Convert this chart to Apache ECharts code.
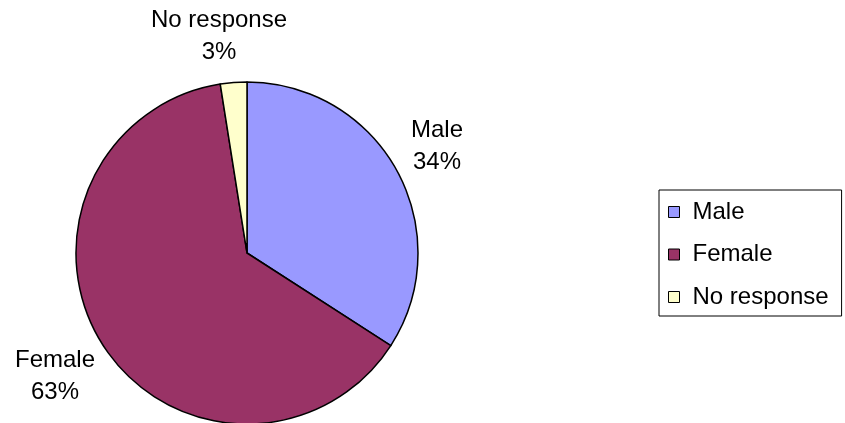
<!DOCTYPE html>
<html>
<head>
<meta charset="utf-8">
<script src="https://cdn.jsdelivr.net/npm/echarts@6/dist/echarts.min.js"></script>
<style>
  html, body { margin: 0; padding: 0; background: #fff; }
  #chart { width: 845px; height: 423px; }
</style>
</head>
<body>
<div id="chart"></div>
<script>
// Respondents by gender (percent of total)
const categories = ['Male', 'Female', 'No response'];
const shares = [34.1, 63.4, 2.5];
const sliceColors = ['#9999FF', '#993366', '#FFFFCC'];

// Where each slice's caption sits (pixel centres in the chart area)
const labelSpots = [[437, 146], [55, 376], [219, 36]];

const font = '"Liberation Sans", Arial, sans-serif';

const chart = echarts.init(document.getElementById('chart'), null, { renderer: 'canvas' });

chart.setOption({
  animation: false,
  backgroundColor: '#ffffff',
  legend: {
    orient: 'vertical',
    left: 659,
    top: 190,
    padding: [9, 13, 6, 9],
    itemGap: 16.5,
    itemWidth: 11,
    itemHeight: 11,
    icon: 'rect',
    borderColor: '#000000',
    borderWidth: 1,
    selectedMode: false,
    itemStyle: { borderColor: '#000000', borderWidth: 1 },
    textStyle: {
      fontFamily: font,
      fontSize: 24,
      color: '#000000',
      lineHeight: 26,
      padding: [0, 0, 0, 8]
    },
    data: categories
  },
  series: [{
    type: 'pie',
    center: [247, 253],
    radius: 171,
    startAngle: 90,
    clockwise: true,
    silent: true,
    avoidLabelOverlap: false,
    itemStyle: { borderColor: '#000000', borderWidth: 1.5 },
    label: {
      show: true,
      position: 'outside',
      fontFamily: font,
      fontSize: 24,
      lineHeight: 32,
      color: '#000000',
      align: 'center',
      formatter: p => p.name + '\n' + Math.round(p.percent) + '%'
    },
    labelLine: { show: false },
    labelLayout: p => ({
      x: labelSpots[p.dataIndex][0],
      y: labelSpots[p.dataIndex][1],
      align: 'center',
      verticalAlign: 'middle'
    }),
    data: categories.map((name, i) => ({
      name: name,
      value: shares[i],
      itemStyle: { color: sliceColors[i] }
    }))
  }]
});
</script>
</body>
</html>
